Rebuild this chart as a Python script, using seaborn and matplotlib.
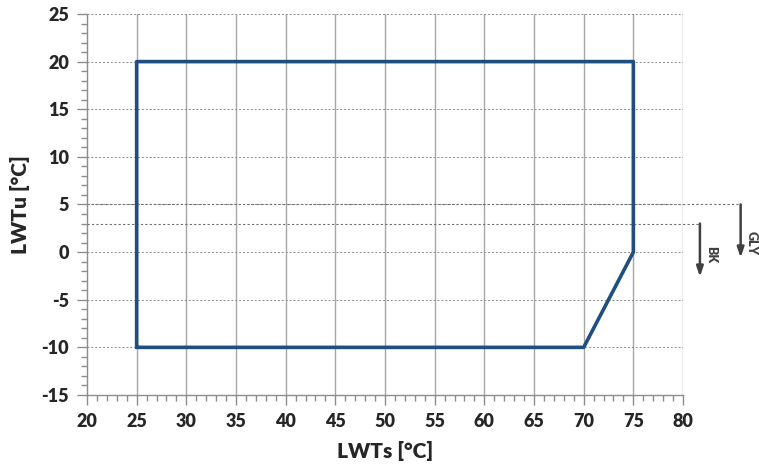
import matplotlib
matplotlib.use("Agg")
import matplotlib.pyplot as plt
from matplotlib.ticker import MultipleLocator
import seaborn as sns
import pandas as pd

# Operating envelope outline (closed polygon)
lwt_supply = [25, 25, 75, 75, 70, 25]
lwt_user = [-10, 20, 20, 0, -10, -10]

# Limit lines for the two fluid options
limit_labels = ["GLY", "BK"]
limit_values = [5, 3]

x_ticks = [20, 25, 30, 35, 40, 45, 50, 55, 60, 65, 70, 75, 80]
y_ticks = [-15, -10, -5, 0, 5, 10, 15, 20, 25]

sns.set_theme(style="white")
plt.rcParams["font.family"] = ["Lato", "DejaVu Sans"]
plt.rcParams["axes.unicode_minus"] = False
WEIGHT = "heavy"

fig = plt.figure(figsize=(7.59, 4.71), dpi=100)
ax = fig.add_axes([0.1146, 0.1614, 0.7853, 0.8089])

df = pd.DataFrame({"LWTs": lwt_supply, "LWTu": lwt_user})
sns.lineplot(data=df, x="LWTs", y="LWTu", sort=False, estimator=None,
             color="#1f4e80", linewidth=2.6, ax=ax, zorder=5)

ax.set_xlim(x_ticks[0], x_ticks[-1])
ax.set_ylim(y_ticks[0], y_ticks[-1])
ax.set_xticks(x_ticks)
ax.set_yticks(y_ticks)
ax.xaxis.set_minor_locator(MultipleLocator(1))
ax.yaxis.set_minor_locator(MultipleLocator(1))

# Gridlines: solid verticals, dashed horizontals
for xv in x_ticks[1:]:
    ax.axvline(xv, color="#a6a6a6", linewidth=1.0, zorder=1)
for yv in y_ticks[1:]:
    ax.axhline(yv, color="#8c8c8c", linewidth=0.7, linestyle=(0, (2, 2)), zorder=1)

for s in ["top", "right"]:
    ax.spines[s].set_visible(False)
for s in ["left", "bottom"]:
    ax.spines[s].set_color("#8c8c8c")
    ax.spines[s].set_linewidth(1.0)

ax.tick_params(axis="both", which="major", direction="out", length=7, width=1.0,
               color="#8c8c8c", labelsize=13, pad=6)
ax.tick_params(axis="both", which="minor", direction="out", length=4, width=1.0,
               color="#8c8c8c")
ax.tick_params(axis="y", which="both", left=True)
ax.tick_params(axis="x", which="both", bottom=True)
for lab in ax.get_xticklabels() + ax.get_yticklabels():
    lab.set_fontweight(WEIGHT)

ax.set_xlabel("LWTs [°C]", fontsize=15, fontweight=WEIGHT, labelpad=8)
ax.set_ylabel("LWTu [°C]", fontsize=15, fontweight=WEIGHT, labelpad=8)

# Extended limit lines with downward arrows
ends = {"GLY": 85.8, "BK": 81.7}
arrow_tips = {"GLY": -0.6, "BK": -2.6}
text_y = {"GLY": 1.0, "BK": -0.3}
for label, yv in zip(limit_labels, limit_values):
    xe = ends[label]
    ax.plot([x_ticks[0], xe], [yv, yv], color="#6e6e6e", linewidth=0.8,
            linestyle=(0, (2, 2)), clip_on=False, zorder=2)
    ax.annotate("", xy=(xe, arrow_tips[label]), xytext=(xe, yv),
                annotation_clip=False,
                arrowprops=dict(arrowstyle="-|>,head_length=0.6,head_width=0.2",
                                color="#404040", lw=1.8,
                                mutation_scale=10, shrinkA=0, shrinkB=0))
    ax.text(xe + 1.15, text_y[label], label,
            rotation=-90, ha="center", va="center", fontsize=9,
            fontweight=WEIGHT, color="#404040", clip_on=False)

fig.savefig("out.png", dpi=100)
